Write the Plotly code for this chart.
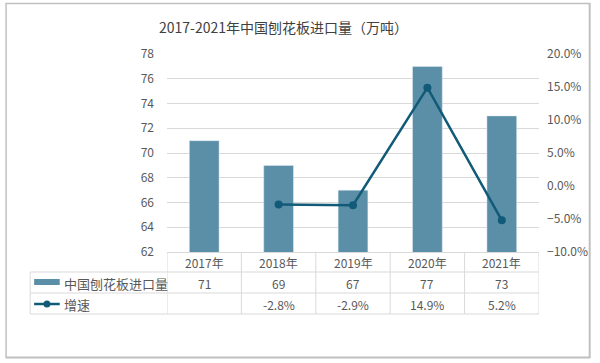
import plotly.graph_objects as go

title = "2017-2021年中国刨花板进口量（万吨）"
years = ["2017年", "2018年", "2019年", "2020年", "2021年"]
imports = [71, 69, 67, 77, 73]
growth = [None, -2.8, -2.9, 14.9, -5.2]
growth_labels = ["", "-2.8%", "-2.9%", "14.9%", "5.2%"]
series_names = ["中国刨花板进口量", "增速"]

BAR = "#5b8fa7"
LINE = "#115a78"
GRID = "#d9d9d9"
TXT = "#595959"
FONT = "Noto Sans CJK SC"

L, R, T, B = 167, 55, 54, 111
W, H = 600, 363
pw, ph = W - L - R, H - T - B

def px(x):
    return (x - L) / pw

def py(y):
    return (H - B - y) / ph

fig = go.Figure()
fig.add_trace(go.Bar(x=list(range(len(years))), y=imports, marker_color=BAR,
                     width=0.4, name=series_names[0], yaxis="y"))
fig.add_trace(go.Scatter(x=list(range(len(years))), y=growth, mode="lines+markers",
                         line=dict(color=LINE, width=2.5), marker=dict(size=8, color=LINE),
                         name=series_names[1], yaxis="y2", connectgaps=False))

shapes = []
annotations = []
n = len(years)

def hline(x0, x1, y, color=GRID, w=1):
    shapes.append(dict(type="line", xref="paper", yref="paper", x0=px(x0), x1=px(x1),
                       y0=py(y), y1=py(y), line=dict(color=color, width=w)))

def vline(x, y0, y1, color=GRID, w=1):
    shapes.append(dict(type="line", xref="paper", yref="paper", x0=px(x), x1=px(x),
                       y0=py(y0), y1=py(y1), line=dict(color=color, width=w)))

for yy in [272, 293, 314]:
    hline(28, 545, yy)
vline(28, 272, 314)
for i in range(n + 1):
    shapes.append(dict(type="line", xref="x", yref="paper", x0=i - 0.5, x1=i - 0.5,
                       y0=py(252), y1=py(314), line=dict(color=GRID, width=1)))
# outer frame
FR = "#c0c0c0"
hline(3, 597, 3.5, FR, 1.5)
hline(3, 597, 357.5, FR, 2)
vline(3.5, 3, 358, FR, 1.5)
vline(596.5, 3, 358, FR, 2)
# legend swatches
shapes.append(dict(type="rect", xref="paper", yref="paper", x0=px(32), x1=px(58),
                   y0=py(279), y1=py(285), fillcolor=BAR, line=dict(width=0)))
hline(32, 58, 304, LINE, 2.5)
shapes.append(dict(type="circle", xref="paper", yref="paper", x0=px(41.5), x1=px(48.5),
                   y0=py(300.5), y1=py(307.5), fillcolor=LINE, line=dict(width=0)))

for i, yr in enumerate(years):
    annotations.append(dict(x=i, xref="x", y=py(262), yref="paper", text=yr, showarrow=False,
                            font=dict(size=12, color=TXT, family=FONT), yanchor="middle"))
    annotations.append(dict(x=i, xref="x", y=py(283), yref="paper", text=str(imports[i]),
                            showarrow=False, font=dict(size=12, color=TXT, family=FONT),
                            yanchor="middle"))
    annotations.append(dict(x=i, xref="x", y=py(304), yref="paper", text=growth_labels[i],
                            showarrow=False, font=dict(size=12, color=TXT, family=FONT),
                            yanchor="middle"))
annotations.append(dict(x=px(60), xref="paper", y=py(283), yref="paper", text=series_names[0],
                        showarrow=False, xanchor="left", yanchor="middle",
                        font=dict(size=13, color=TXT, family=FONT)))
annotations.append(dict(x=px(60), xref="paper", y=py(304), yref="paper", text=series_names[1],
                        showarrow=False, xanchor="left", yanchor="middle",
                        font=dict(size=13, color=TXT, family=FONT)))
annotations.append(dict(x=px(285), xref="paper", y=py(27), yref="paper", text=title,
                        showarrow=False, xanchor="center", yanchor="middle",
                        font=dict(size=14, color="#404040", family=FONT)))

fig.update_layout(
    width=W, height=H, margin=dict(l=L, r=R, t=T, b=B),
    paper_bgcolor="white", plot_bgcolor="white", showlegend=False,
    font=dict(family=FONT, color=TXT, size=12),
    xaxis=dict(range=[-0.5, n - 0.5], showticklabels=False, showgrid=False, zeroline=False,
               showline=True, linecolor=GRID, linewidth=1, ticks=""),
    yaxis=dict(range=[62, 78], dtick=2, showgrid=True, gridcolor=GRID, gridwidth=1,
               zeroline=False, ticks="", tickfont=dict(size=12, color=TXT), ticklabelstandoff=12),
    yaxis2=dict(range=[-10, 20], dtick=5, overlaying="y", side="right", showgrid=False,
                zeroline=False, ticksuffix="%", tickformat=".1f",
                tickfont=dict(size=12, color=TXT), ticklabelstandoff=7),
    shapes=shapes, annotations=annotations, bargap=0.6,
)
fig.write_html("out.html", config={"displayModeBar": False},
               post_script="document.body.style.margin='0';")
